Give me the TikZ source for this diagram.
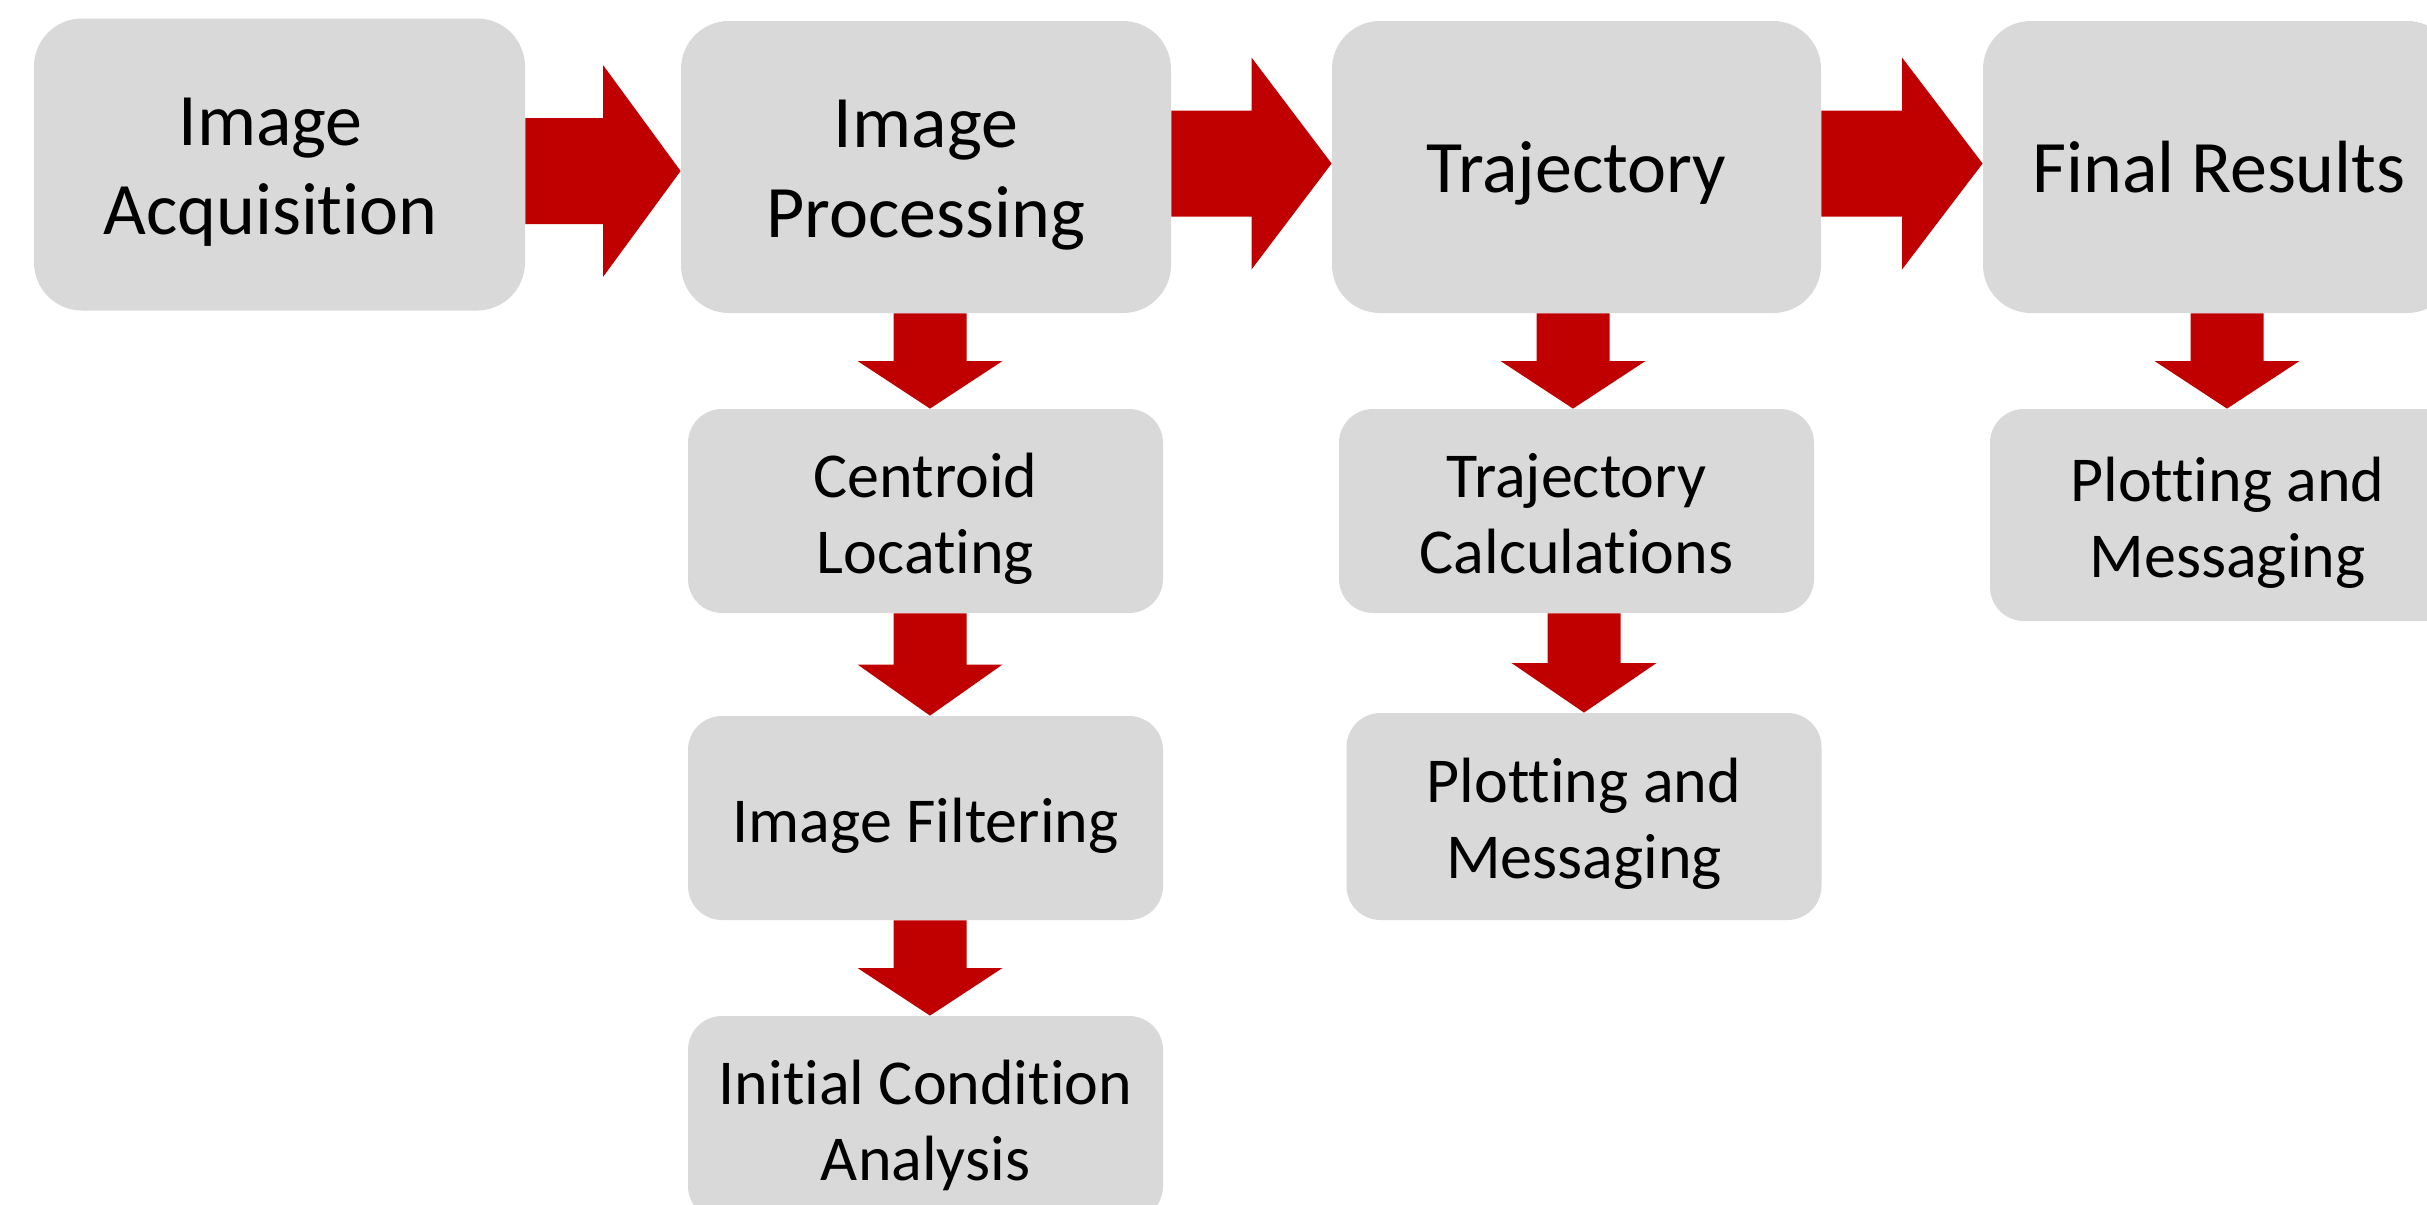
\documentclass[tikz,border=0pt]{standalone}
\usepackage{fontspec}
\setmainfont{Carlito}[Ligatures=NoCommon]
\usetikzlibrary{calc}
\definecolor{boxgray}{HTML}{D9D9D9}
\definecolor{arrowred}{HTML}{C00000}
% centred stack of lines, lowered by #1 while keeping its reported size
\newcommand\boxlines[2]{%
  \raisebox{-#1}[\height][\depth]{\begin{tabular}{@{}c@{}}#2\end{tabular}}}
\newcommand\toptext[1]{\boxlines{3.8pt}{#1}}
\newcommand\subtext[1]{\boxlines{4.6pt}{#1}}
\tikzset{
  box/.style={fill=boxgray, inner sep=0pt, text=black},
  topbox/.style={box, rounded corners=24pt, minimum height=146pt,
                 font=\fontsize{37}{44.7}\selectfont},
  subbox/.style={box, rounded corners=17pt, minimum height=102pt,
                 minimum width=237.5pt, font=\fontsize{32}{38}\selectfont},
  blockarrow/.style={fill=arrowred},
}
% block arrow pointing right from node #1 to node #2, centred on height #3
\newcommand\rightblock[3]{%
  \fill[blockarrow] let \p1=(#1.east |- 0,#3), \p2=(#2.west |- 0,#3),
    \p3=($(\p1)!.5!(\p2)$) in
    (\x1,\y1+26.5pt) -- (\x3,\y1+26.5pt) -- (\x3,\y1+53pt) -- (\x2,\y1)
    -- (\x3,\y1-53pt) -- (\x3,\y1-26.5pt) -- (\x1,\y1-26.5pt) -- cycle;}
% block arrow pointing down from node #1 to node #2, centred on abscissa #3
\newcommand\downblock[3]{%
  \fill[blockarrow] let \p1=(#1.south -| #3,0), \p2=(#2.north -| #3,0),
    \p3=($(\p1)!.5!(\p2)$) in
    (\x1-18.25pt,\y1) -- (\x1-18.25pt,\y3) -- (\x1-36.25pt,\y3) -- (\x1,\y2)
    -- (\x1+36.25pt,\y3) -- (\x1+18.25pt,\y3) -- (\x1+18.25pt,\y1) -- cycle;}
\begin{document}
\begin{tikzpicture}[x=0.5pt, y=-0.5pt]
  \useasboundingbox (0,0) rectangle (2427,1205);
  \clip (0,0) rectangle (2427,1205);
  \fill[white] (0,0) rectangle (2427,1205);

  % main pipeline
  \node[topbox, minimum width=245.5pt] (acq)   at (279.5,164.5) {\hspace*{-9pt}\toptext{Image\\Acquisition}};
  \node[topbox, minimum width=245pt]   (proc)  at (926,167)     {\toptext{Image\\Processing}};
  \node[topbox, minimum width=244.5pt] (traj)  at (1576.5,167)  {\toptext{Trajectory}};
  \node[topbox, minimum width=236pt]   (final) at (2219,167)    {\toptext{Final Results}};

  % sub-steps
  \node[subbox] (cent)  at (925.5,511)  {\subtext{Centroid\\Locating}};
  \node[subbox] (filt)  at (925.5,818)  {\subtext{Image Filtering}};
  \node[subbox] (init)  at (925.5,1118) {\subtext{Initial Condition\\Analysis}};
  \node[subbox] (tcalc) at (1576.5,511) {\subtext{Trajectory\\Calculations}};
  \node[subbox, minimum height=103.5pt] (plotA) at (1584,816.5) {\subtext{Plotting and\\Messaging}};
  \node[subbox, minimum height=106pt]   (plotB) at (2227.5,515) {\subtext{Plotting and\\Messaging}};

  % arrows along the pipeline
  \rightblock{acq}{proc}{171}
  \rightblock{proc}{traj}{163.5}
  \rightblock{traj}{final}{163.5}

  % arrows down to the sub-steps
  \downblock{proc}{cent}{930}
  \downblock{cent}{filt}{930}
  \downblock{filt}{init}{930}
  \downblock{traj}{tcalc}{1573}
  \downblock{tcalc}{plotA}{1584}
  \downblock{final}{plotB}{2227}
\end{tikzpicture}
\end{document}
